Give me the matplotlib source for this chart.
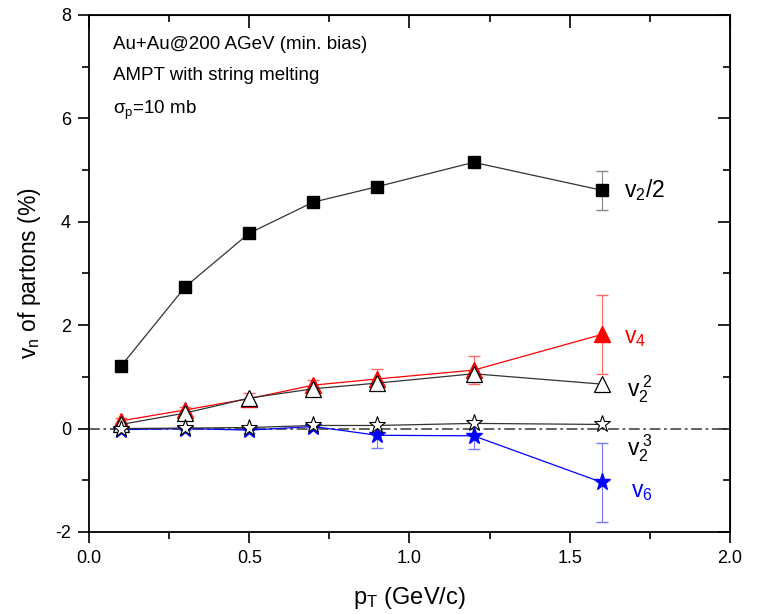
import matplotlib
matplotlib.use("Agg")
import matplotlib.pyplot as plt
from matplotlib.ticker import MultipleLocator

plt.rcParams['font.family'] = ['Liberation Sans', 'DejaVu Sans']
plt.rcParams['mathtext.fontset'] = 'custom'
plt.rcParams['mathtext.rm'] = 'Liberation Sans'
plt.rcParams['mathtext.it'] = 'Liberation Sans'
plt.rcParams['mathtext.bf'] = 'Liberation Sans:bold'
plt.rcParams['axes.unicode_minus'] = False

pt = [0.1, 0.3, 0.5, 0.7, 0.9, 1.2, 1.6]
v2_half = [1.21, 2.74, 3.78, 4.38, 4.68, 5.15, 4.61]
v2_half_err = [0.05, 0.05, 0.05, 0.05, 0.06, 0.1, 0.38]
v4 = [0.15, 0.36, 0.58, 0.84, 0.96, 1.13, 1.82]
v4_err = [0.05, 0.05, 0.1, 0.1, 0.19, 0.27, 0.77]
v2sq = [0.08, 0.30, 0.59, 0.77, 0.88, 1.06, 0.86]
v2cube = [0.0, 0.01, 0.02, 0.06, 0.06, 0.10, 0.08]
v6 = [-0.02, 0.0, -0.03, 0.04, -0.13, -0.14, -1.04]
v6_err = [0.03, 0.03, 0.05, 0.05, 0.24, 0.26, 0.77]

fig = plt.figure(figsize=(7.57, 6.14), dpi=100)
ax = fig.add_axes([0.1176, 0.1336, 0.8467, 0.842])

ax.axhline(0, color='#555555', lw=1.3, ls=(0, (6, 2, 1.5, 2)), zorder=1)

ax.errorbar(pt, v4, yerr=v4_err, color='red', lw=0.9, marker='^', ms=12,
            mfc='red', mec='red', capsize=4, elinewidth=0.8, ecolor='#ff6666', zorder=3)
ax.plot(pt, v2sq, color='#333333', lw=0.9, marker='^', ms=11.5, mfc='white',
        mec='black', mew=0.9, zorder=4)
ax.errorbar(pt, v6, yerr=v6_err, color='blue', lw=0.9, marker='*', ms=12.5,
            mfc='blue', mec='blue', capsize=4, elinewidth=0.8, ecolor='#7777ff', zorder=3)
ax.plot(pt, v2cube, color='#333333', lw=0.9, marker='*', ms=12.5, mfc='white',
        mec='black', mew=0.8, zorder=4)
ax.errorbar(pt, v2_half, yerr=v2_half_err, color='#333333', lw=0.9, marker='s', ms=8.5,
            mfc='black', mec='black', capsize=4, elinewidth=0.8, ecolor='#888888', zorder=5)

ax.set_xlim(0, 2.0)
ax.set_ylim(-2, 8)
ax.xaxis.set_major_locator(MultipleLocator(0.5))
ax.xaxis.set_minor_locator(MultipleLocator(0.25))
ax.yaxis.set_major_locator(MultipleLocator(2))
ax.yaxis.set_minor_locator(MultipleLocator(1))
ax.xaxis.set_major_formatter(matplotlib.ticker.FormatStrFormatter('%.1f'))
ax.tick_params(which='both', direction='out', top=False, right=False, width=1.2, labelsize=13)
ax.tick_params(which='major', length=8, pad=5)
ax.tick_params(which='minor', length=5)
for s in ax.spines.values():
    s.set_linewidth(1.3)

# mirrored inward ticks on top and right
axt = ax.secondary_xaxis('top')
axt.xaxis.set_major_locator(MultipleLocator(0.5))
axt.xaxis.set_minor_locator(MultipleLocator(0.25))
axt.tick_params(which='both', direction='in', labeltop=False, width=1.2)
axt.tick_params(which='major', length=9)
axt.tick_params(which='minor', length=5)
axr = ax.secondary_yaxis('right')
axr.yaxis.set_major_locator(MultipleLocator(2))
axr.yaxis.set_minor_locator(MultipleLocator(1))
axr.tick_params(which='both', direction='in', labelright=False, width=1.2)
axr.tick_params(which='major', length=9)
axr.tick_params(which='minor', length=5)

ax.set_xlabel(r'p$_\mathrm{T}$ (GeV/c)', fontsize=17, labelpad=13)
ax.set_ylabel(r'v$_\mathrm{n}$ of partons (%)', fontsize=16.5, labelpad=9)

ax.text(0.075, 7.42, 'Au+Au@200 AGeV (min. bias)', fontsize=13.5, va='center')
ax.text(0.075, 6.82, 'AMPT with string melting', fontsize=13.5, va='center')
ax.text(0.075, 6.16, r'σ$_\mathrm{p}$=10 mb', fontsize=13.5, va='center')

ax.text(1.67, 4.62, r'v$_\mathrm{2}$/2', fontsize=16.5, va='center')
ax.text(1.67, 1.76, r'v$_\mathrm{4}$', fontsize=16.5, va='center', color='red')
ax.text(1.68, 0.76, r'v$_\mathrm{2}^{\;\mathrm{2}}$', fontsize=16.5, va='center')
ax.text(1.68, -0.38, r'v$_\mathrm{2}^{\;\mathrm{3}}$', fontsize=16.5, va='center')
ax.text(1.69, -1.22, r'v$_\mathrm{6}$', fontsize=16.5, va='center', color='blue')

fig.savefig('out.png', dpi=100)
